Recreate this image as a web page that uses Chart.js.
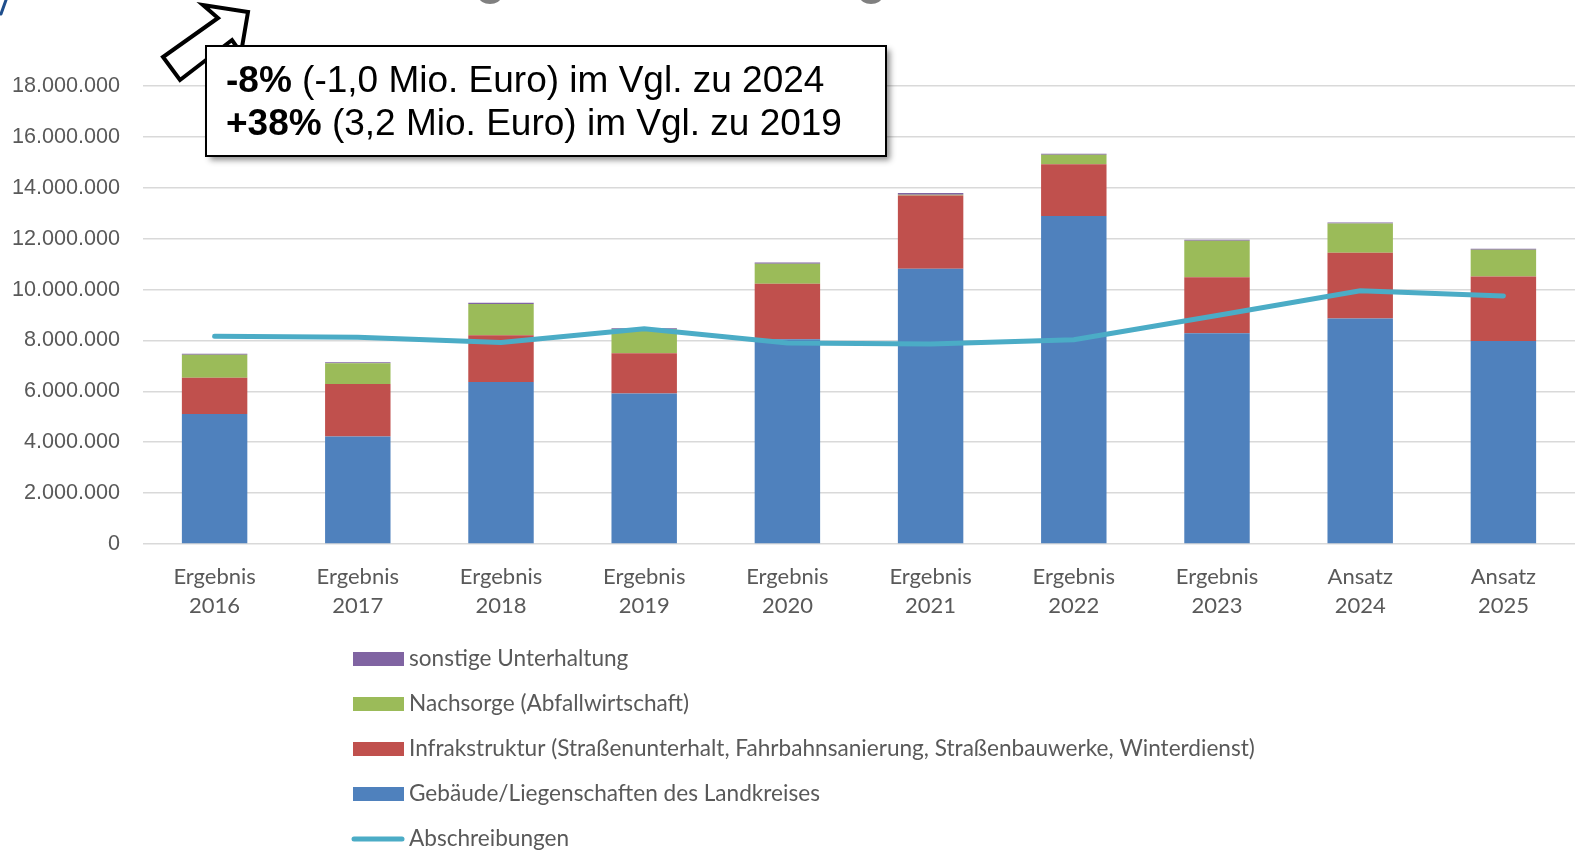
<!DOCTYPE html>
<html>
<head>
<meta charset="utf-8">
<script src="https://cdn.jsdelivr.net/npm/chart.js@4"></script>
<style>
  body { margin: 0; background: #fff; }
  canvas { display: block; }
</style>
</head>
<body>
<canvas id="chart1" width="1575" height="850"></canvas>
<script>
// categories
const jahre = [
    ['Ergebnis', '2016'], ['Ergebnis', '2017'], ['Ergebnis', '2018'], ['Ergebnis', '2019'],
    ['Ergebnis', '2020'], ['Ergebnis', '2021'], ['Ergebnis', '2022'], ['Ergebnis', '2023'],
    ['Ansatz', '2024'], ['Ansatz', '2025']
];

// series (Euro)
const gebaeude      = [5110000, 4220000, 6370000, 5910000, 8050000, 10820000, 12890000, 8280000, 8860000, 7980000];
const infrastruktur = [1420000, 2070000, 1830000, 1590000, 2180000, 2880000, 2030000, 2200000, 2590000, 2530000];
const nachsorge     = [910000, 810000, 1230000, 950000, 780000, 30000, 380000, 1440000, 1150000, 1050000];
const sonstige      = [40000, 40000, 50000, 30000, 50000, 60000, 40000, 40000, 40000, 40000];
const abschreibungen = [8160000, 8130000, 7920000, 8460000, 7900000, 7860000, 8030000, 8980000, 9950000, 9750000];

const yTicks = [0, 2000000, 4000000, 6000000, 8000000, 10000000, 12000000, 14000000, 16000000, 18000000];

const grau = '#595959';
const calibriLike = 'Lato, "Open Sans", sans-serif';

const fmt = (v) => String(v).replace(/\B(?=(\d{3})+(?!\d))/g, '.');

// legend order as in the picture (top to bottom)
const legendOrder = [3, 2, 1, 0, 4];

const extras = {
    id: 'extras',
    afterDraw(chart) {
        const c = chart.ctx;
        c.save();

        // legend
        let y = 659;
        legendOrder.forEach(i => {
            const ds = chart.data.datasets[i];
            if (ds.type === 'line') {
                c.strokeStyle = ds.borderColor;
                c.lineWidth = 5;
                c.lineCap = 'round';
                c.beginPath();
                c.moveTo(354, y);
                c.lineTo(402, y);
                c.stroke();
            } else {
                c.fillStyle = ds.backgroundColor;
                c.fillRect(353, y - 7, 51, 14);
            }
            c.fillStyle = grau;
            c.font = '22.6px ' + calibriLike;
            c.textBaseline = 'middle';
            c.textAlign = 'left';
            c.fillText(ds.label, 409, y);
            y += 45;
        });

        // bits of the cut-off slide title
        c.fillStyle = '#808080';
        c.beginPath(); c.ellipse(490, -3, 11, 7, 0, 0, Math.PI * 2); c.fill();
        c.beginPath(); c.ellipse(871, -3, 11, 7, 0, 0, Math.PI * 2); c.fill();
        c.strokeStyle = '#1f4e8c';
        c.lineWidth = 3;
        c.beginPath(); c.moveTo(6, 0); c.lineTo(1, 14); c.stroke();

        // arrow
        c.beginPath();
        c.moveTo(248, 12);
        c.lineTo(203, 5);
        c.lineTo(218, 18);
        c.lineTo(163, 57);
        c.lineTo(180, 80);
        c.lineTo(232, 40);
        c.lineTo(241, 53);
        c.closePath();
        c.fillStyle = '#fff';
        c.fill();
        c.strokeStyle = '#000';
        c.lineWidth = 4;
        c.lineJoin = 'miter';
        c.stroke();

        // annotation box
        c.save();
        c.shadowColor = 'rgba(0,0,0,0.45)';
        c.shadowBlur = 6;
        c.shadowOffsetX = 4;
        c.shadowOffsetY = 4;
        c.fillStyle = '#fff';
        c.fillRect(206, 46, 680, 110);
        c.restore();
        c.strokeStyle = '#000';
        c.lineWidth = 2;
        c.strokeRect(206, 46, 680, 110);

        const lines = [
            ['-8%', ' (-1,0 Mio. Euro) im Vgl. zu 2024'],
            ['+38%', ' (3,2 Mio. Euro) im Vgl. zu 2019']
        ];
        c.fillStyle = '#000';
        c.textBaseline = 'middle';
        lines.forEach((l, k) => {
            const ly = 82 + k * 43;
            c.font = 'bold 37px "Liberation Sans", Arial, sans-serif';
            c.fillText(l[0], 226, ly);
            const w = c.measureText(l[0]).width;
            c.font = '37px "Liberation Sans", Arial, sans-serif';
            c.fillText(l[1], 226 + w, ly);
        });

        c.restore();
    }
};

const ctx = document.getElementById('chart1');
new Chart(ctx, {
    type: 'bar',
    data: {
        labels: jahre,
        datasets: [
            { label: 'Gebäude/Liegenschaften des Landkreises', data: gebaeude, backgroundColor: '#4F81BD', order: 1 },
            { label: 'Infrakstruktur (Straßenunterhalt, Fahrbahnsanierung, Straßenbauwerke, Winterdienst)', data: infrastruktur, backgroundColor: '#C0504D', order: 1 },
            { label: 'Nachsorge (Abfallwirtschaft)', data: nachsorge, backgroundColor: '#9BBB59', order: 1 },
            { label: 'sonstige Unterhaltung', data: sonstige, backgroundColor: '#8064A2', order: 1 },
            {
                type: 'line',
                label: 'Abschreibungen',
                data: abschreibungen,
                borderColor: '#4BACC6',
                backgroundColor: '#4BACC6',
                borderWidth: 5,
                borderCapStyle: 'round',
                pointRadius: 0,
                tension: 0,
                fill: false,
                order: 0
            }
        ]
    },
    options: {
        responsive: false,
        animation: false,
        events: [],
        layout: { padding: { top: 86, left: 0, right: 0, bottom: 0 } },
        datasets: {
            bar: { barPercentage: 1, categoryPercentage: 0.457, borderWidth: 0 }
        },
        plugins: {
            legend: { display: false },
            tooltip: { enabled: false }
        },
        scales: {
            x: {
                stacked: true,
                grid: { display: false, drawTicks: false },
                border: { display: false },
                ticks: {
                    color: grau,
                    font: { family: calibriLike, size: 22, lineHeight: 1.3 },
                    padding: 19,
                    maxRotation: 0,
                    autoSkip: false
                },
                afterFit(scale) { scale.height = 306; }
            },
            y: {
                stacked: true,
                min: 0,
                max: 18000000,
                afterBuildTicks(scale) { scale.ticks = yTicks.map(v => ({ value: v })); },
                grid: { color: '#D9D9D9', lineWidth: 1.5, drawTicks: false },
                border: { display: false },
                ticks: {
                    color: grau,
                    font: { family: '"Liberation Sans", Arial, sans-serif', size: 21.6 },
                    padding: 23,
                    callback: (v) => fmt(v)
                },
                afterFit(scale) { scale.width = 143; }
            }
        }
    },
    plugins: [extras]
});
</script>
</body>
</html>
